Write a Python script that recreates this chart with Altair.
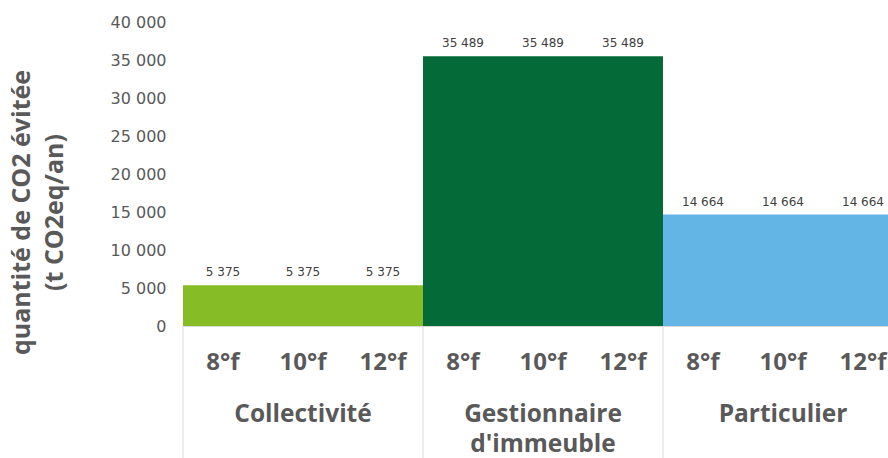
import altair as alt
import pandas as pd

# Avoided CO2 per customer type and water hardness setting
groups = ["Collectivité", "Gestionnaire d'immeuble", "Particulier"]
group_lines = [["Collectivité"], ["Gestionnaire", "d'immeuble"], ["Particulier"]]
hardness = ["8°f", "10°f", "12°f"]
collectivite = [5375, 5375, 5375]
gestionnaire = [35489, 35489, 35489]
particulier = [14664, 14664, 14664]
colors = ["#86BC25", "#046A38", "#62B5E5"]
y_ticks = [0, 5000, 10000, 15000, 20000, 25000, 30000, 35000, 40000]

series = [collectivite, gestionnaire, particulier]

rows = []
for g, (name, vals) in enumerate(zip(groups, series)):
    for k, (h, v) in enumerate(zip(hardness, vals)):
        i = g * 3 + k
        rows.append({
            "group": name,
            "hardness": h,
            "value": v,
            "base": 0,
            "start": i,
            "end": i + 1,
            "mid": i + 0.5,
            "label": f"{v:,}".replace(",", " "),
        })
bars = pd.DataFrame(rows)

group_df = pd.DataFrame({
    "group": groups,
    "start": [g * 3 for g in range(len(groups))],
    "mid": [g * 3 + 1.5 for g in range(len(groups))],
    "line1": [ln[0] for ln in group_lines],
    "line2": [ln[1] if len(ln) > 1 else "" for ln in group_lines],
})

PLOT_W, PLOT_H = 705, 304
BAR_PX = 80
x_scale = alt.Scale(domain=[0, PLOT_W / BAR_PX], nice=False, zero=False)
y_scale = alt.Scale(domain=[0, 40000], nice=False)
GRAY = "#595959"

x_axis = alt.Axis(labels=False, ticks=False, grid=False, title=None,
                  domainColor="#d9d9d9", domainWidth=1)
y_axis = alt.Axis(
    values=y_ticks,
    labelExpr="replace(format(datum.value, ',d'), ',', ' ')",
    labelOverlap=False,
    ticks=False, domain=False, grid=False,
    labelFont="DejaVu Sans", labelFontSize=16, labelColor=GRAY, labelPadding=17,
    title=["quantité de CO2 évitée", "(t CO2eq/an)"],
    titleFont="Open Sans", titleFontSize=25, titleFontWeight="bold", titleColor=GRAY,
    titleLineHeight=33, titleAngle=270, titleAlign="center", titleBaseline="top",
    titleX=-174, titleY=190,
)

X_start = alt.X("start:Q", scale=x_scale, axis=x_axis)
X_mid = alt.X("mid:Q", scale=x_scale, axis=x_axis)
Y_val = alt.Y("value:Q", scale=y_scale, axis=y_axis)

bar_layer = alt.Chart(bars).mark_bar(clip=True, strokeWidth=0).encode(
    x=X_start,
    x2="end:Q",
    y=Y_val,
    y2="base:Q",
    color=alt.Color("group:N", scale=alt.Scale(domain=groups, range=colors), legend=None),
)

value_labels = alt.Chart(bars).mark_text(
    font="DejaVu Sans", fontSize=12, color="#404040", baseline="alphabetic", dy=-9
).encode(x=X_mid, y=Y_val, text="label:N")

separators = alt.Chart(group_df).mark_rule(color="#d9d9d9", strokeWidth=1).encode(
    x=X_start,
    y=alt.value(PLOT_H),
    y2=alt.value(PLOT_H + 132),
)

hardness_labels = alt.Chart(bars).mark_text(
    font="Open Sans", fontSize=24, fontWeight="bold", color=GRAY, baseline="middle"
).encode(x=X_mid, y=alt.value(PLOT_H + 37), text="hardness:N")

group_line1 = alt.Chart(group_df).mark_text(
    font="Open Sans", fontSize=24.5, fontWeight="bold", color=GRAY, baseline="middle"
).encode(x=X_mid, y=alt.value(PLOT_H + 89), text="line1:N")

group_line2 = alt.Chart(group_df).mark_text(
    font="Open Sans", fontSize=24.5, fontWeight="bold", color=GRAY, baseline="middle"
).encode(x=X_mid, y=alt.value(PLOT_H + 119), text="line2:N")

chart = alt.layer(
    bar_layer, value_labels, separators, hardness_labels, group_line1, group_line2
).properties(
    width=PLOT_W,
    height=PLOT_H,
    autosize=alt.AutoSizeParams(type="none"),
    padding={"left": 183, "top": 22, "right": 0, "bottom": 132},
).configure_view(stroke=None).configure_axis(labelOverlap=False)

chart.save("out.html", embed_options={"renderer": "svg", "actions": False})
